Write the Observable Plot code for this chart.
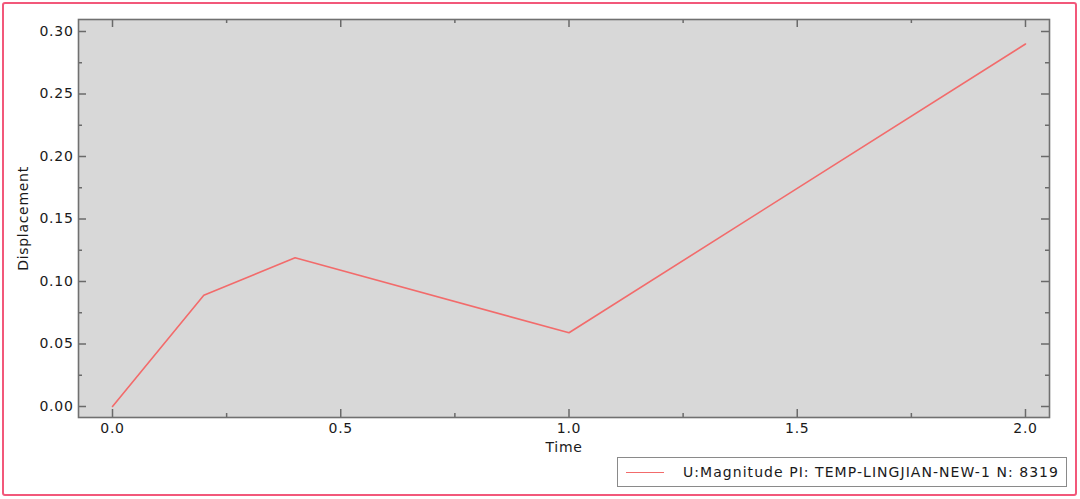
<!DOCTYPE html>
<html>
<head>
<meta charset="utf-8">
<script src="https://cdn.jsdelivr.net/npm/d3@7"></script>
<script src="https://cdn.jsdelivr.net/npm/@observablehq/plot@0.6"></script>
<style>
  html, body { margin: 0; padding: 0; background: #fff; }
  #wrap { position: relative; width: 1080px; height: 499px; overflow: hidden; font-family: "DejaVu Sans", Verdana, sans-serif; }
  #border { position: absolute; left: 2px; top: 2px; width: 1075px; height: 494px; box-sizing: border-box; border: 2px solid #f2587a; border-radius: 3px; pointer-events: none; }
  #chart { position: absolute; left: 0; top: 0; }
  #chart svg text { letter-spacing: 0.7px; }
  #legend { position: absolute; left: 617px; top: 457px; width: 450px; height: 30px; box-sizing: border-box; border: 1px solid #8a8a8a; background: #fff; display: flex; align-items: center; font-size: 14px; letter-spacing: 1.05px; color: #1a1a1a; white-space: nowrap; }
  #legend .swatch { display: inline-block; width: 38px; height: 0; border-top: 1.5px solid #f26b6b; margin-left: 8px; margin-right: 19px; }
</style>
</head>
<body>
<div id="wrap">
  <div id="chart"></div>
  <div id="legend"><span class="swatch"></span><span id="legendText"></span></div>
  <div id="border"></div>
</div>
<script>
// Data
const time = [0.0, 0.2, 0.4, 1.0, 2.0];
const displacement = [0.0, 0.089, 0.119, 0.059, 0.290];
const xTicks = [0.0, 0.5, 1.0, 1.5, 2.0];
const xMinorTicks = [0.25, 0.75, 1.25, 1.75];
const yTicks = [0.00, 0.05, 0.10, 0.15, 0.20, 0.25, 0.30];
const yMinorTicks = [0.025, 0.075, 0.125, 0.175, 0.225, 0.275];
const seriesName = "U:Magnitude PI: TEMP-LINGJIAN-NEW-1 N: 8319";
const xLabel = "Time";
const yLabel = "Displacement";

const data = time.map((t, i) => ({t, d: displacement[i]}));

const W = 1080, H = 499;
const mL = 78, mT = 19, mR = 31, mB = 82;
const pw = W - mL - mR, ph = H - mT - mB;
const tickColor = "#6a6a6a";
const major = 8, minor = 4;

const chart = Plot.plot({
  width: W,
  height: H,
  marginLeft: mL,
  marginTop: mT,
  marginRight: mR,
  marginBottom: mB,
  style: { fontFamily: "'DejaVu Sans', Verdana, sans-serif", fontSize: "14px", color: "#1a1a1a", background: "transparent" },
  x: { domain: [-0.0745, 2.0526] },
  y: { domain: [-0.0088, 0.3096] },
  marks: [
    Plot.frame({ fill: "#d8d8d8", stroke: null }),
    // inner ticks: left / right
    Plot.tickY(yTicks, { y: d => d, insetRight: pw - major, stroke: tickColor, strokeWidth: 1.5 }),
    Plot.tickY(yTicks, { y: d => d, insetLeft: pw - major, stroke: tickColor, strokeWidth: 1.5 }),
    Plot.tickY(yMinorTicks, { y: d => d, insetRight: pw - minor, stroke: tickColor, strokeWidth: 1.5 }),
    Plot.tickY(yMinorTicks, { y: d => d, insetLeft: pw - minor, stroke: tickColor, strokeWidth: 1.5 }),
    // inner ticks: bottom / top
    Plot.tickX(xTicks, { x: d => d, insetTop: ph - major, stroke: tickColor, strokeWidth: 1.5 }),
    Plot.tickX(xTicks, { x: d => d, insetBottom: ph - major, stroke: tickColor, strokeWidth: 1.5 }),
    Plot.tickX(xMinorTicks, { x: d => d, insetTop: ph - minor, stroke: tickColor, strokeWidth: 1.5 }),
    Plot.tickX(xMinorTicks, { x: d => d, insetBottom: ph - minor, stroke: tickColor, strokeWidth: 1.5 }),
    Plot.axisY({ ticks: yTicks, tickFormat: d3.format(".2f"), tickSize: 0, tickPadding: 5, label: yLabel, labelAnchor: "center", labelOffset: 60, labelArrow: "none", fontSize: 14 }),
    Plot.axisX({ ticks: xTicks, tickFormat: d3.format(".1f"), tickSize: 0, tickPadding: 6, label: xLabel, labelAnchor: "center", labelOffset: 34, labelArrow: "none", fontSize: 14 }),
    Plot.line(data, { x: "t", y: "d", stroke: "#f26b6b", strokeWidth: 1.6 }),
    Plot.frame({ stroke: "#707070", strokeWidth: 1.6 })
  ]
});
document.getElementById("chart").appendChild(chart);
document.getElementById("legendText").textContent = seriesName;
</script>
</body>
</html>
